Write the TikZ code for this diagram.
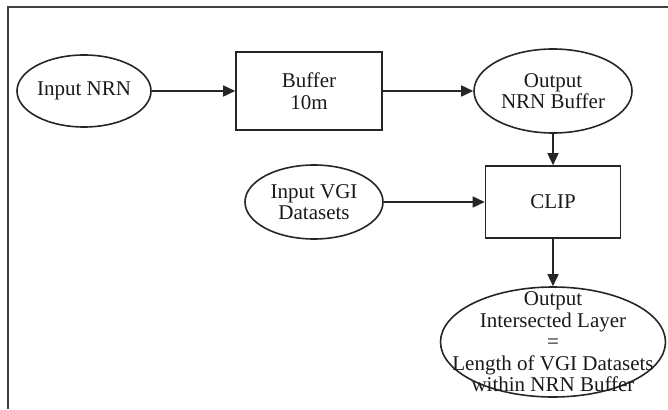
\documentclass[tikz,border=0pt]{standalone}
\usepackage{fontspec}
\setmainfont{Liberation Serif}
\usetikzlibrary{shapes.geometric,arrows.meta}
\begin{document}
\begin{tikzpicture}[x=1pt,y=-1pt,
  every node/.style={font=\fontsize{21}{21.5}\selectfont, text=black!90, align=center},
  proc/.style={draw=black!85, line width=1.6pt, rectangle, inner sep=0pt},
  term/.style={draw=black!85, line width=1.6pt, ellipse, inner sep=0pt},
  flow/.style={draw=black!85, line width=1.6pt, -{Triangle[length=12pt,width=11pt]}},
  framing/.style={draw=black!75, line width=2.6pt, line join=miter}]
\useasboundingbox (0,0) rectangle (668,409);

% open frame: top and left edges
\draw[framing] (8,409) -- (8,7) -- (668,7);

% first row
\node[term, minimum width=134pt, minimum height=72pt] (nrn) at (84,91) {Input NRN};
\node[proc, minimum width=146pt, minimum height=78pt] (buf) at (309,91) {Buffer\\10m};
\node[term, minimum width=158pt, minimum height=84pt] (onb) at (553,91) {Output\\NRN Buffer};

% second row
\node[term, minimum width=138pt, minimum height=74pt] (vgi) at (314,202) {Input VGI\\Datasets};
\node[proc, minimum width=135pt, minimum height=72pt] (clip) at (553,202) {CLIP};

% result
\node[term, minimum width=225pt, minimum height=110pt] (out) at (553,342) {};
\node (outtext) at (out.center) {Output\\Intersected Layer\\=\\Length of VGI Datasets\\within NRN Buffer};

% connectors
\draw[flow] (nrn.east) -- (buf.west);
\draw[flow] (buf.east) -- (onb.west);
\draw[flow] (onb.south) -- (clip.north);
\draw[flow] (vgi.east) -- (clip.west);
\draw[flow] (clip.south) -- (out.north);
\end{tikzpicture}
\end{document}
